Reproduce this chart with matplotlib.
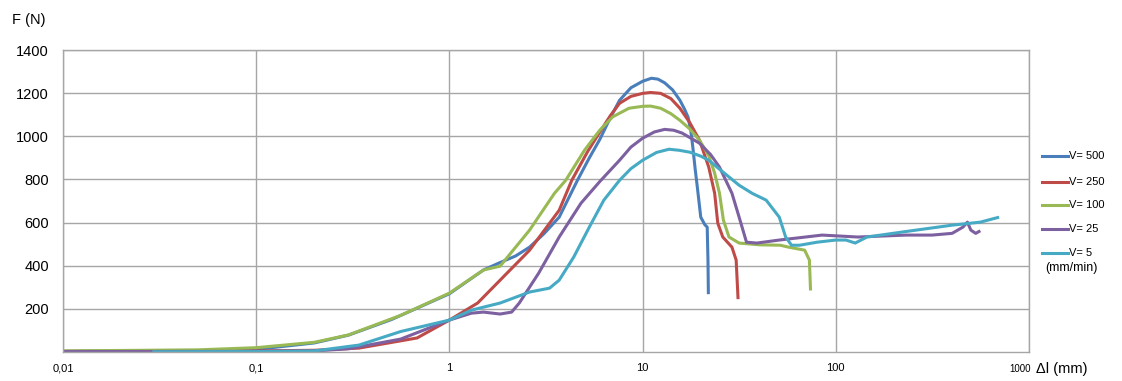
import matplotlib
matplotlib.use("Agg")
import matplotlib.pyplot as plt
from matplotlib.lines import Line2D

plt.rcParams['font.family'] = ['Liberation Sans', 'DejaVu Sans']

# elongation (mm) and force (N) for each crosshead speed
x_500 = [0.01, 0.05, 0.1, 0.2, 0.3, 0.5, 1.0, 1.5, 1.8, 2.2, 2.6, 3.1, 3.7, 4.6, 5.3, 6.0, 6.8, 7.6, 8.7, 10.0, 11.1, 12.0, 13.0, 14.3, 15.6, 16.5, 17.2, 17.8, 18.2, 18.7, 19.2, 20.0, 21.0, 21.6, 21.8, 21.9]
f_500 = [3, 6, 12, 42, 78, 150, 270, 380, 412, 445, 486, 550, 625, 796, 900, 985, 1085, 1167, 1225, 1255, 1269, 1265, 1248, 1215, 1167, 1125, 1088, 1020, 949, 850, 764, 625, 590, 579, 420, 268]

x_250 = [0.01, 0.1, 0.2, 0.34, 0.68, 1.0, 1.4, 1.83, 2.6, 3.7, 4.3, 5.2, 6.0, 6.8, 7.6, 8.7, 10.0, 11.0, 12.4, 14.0, 15.6, 17.5, 19.7, 22.0, 23.6, 24.5, 26.0, 29.0, 30.5, 31.2]
f_250 = [3, 5, 8, 18, 65, 148, 227, 333, 472, 657, 796, 930, 1019, 1095, 1153, 1185, 1199, 1203, 1199, 1175, 1130, 1065, 982, 857, 736, 597, 533, 486, 426, 245]

x_100 = [0.01, 0.05, 0.1, 0.2, 0.3, 0.56, 1.0, 1.5, 1.83, 2.6, 3.5, 4.0, 5.0, 6.0, 7.0, 8.5, 10.0, 11.0, 12.4, 14.0, 15.6, 17.5, 19.7, 22.0, 23.6, 25.0, 26.2, 28.0, 31.6, 40.0, 51.6, 57.0, 69.0, 73.0, 74.0]
f_100 = [5, 10, 20, 45, 79, 170, 273, 380, 398, 565, 736, 796, 935, 1028, 1090, 1130, 1139, 1140, 1130, 1105, 1074, 1035, 982, 910, 829, 736, 611, 533, 505, 497, 495, 486, 472, 426, 285]

x_25 = [0.01, 0.1, 0.2, 0.3, 0.56, 1.0, 1.3, 1.5, 1.83, 2.1, 2.3, 2.9, 3.7, 4.8, 6.0, 7.6, 8.7, 10.0, 11.5, 13.0, 14.5, 16.0, 19.7, 22.5, 25.0, 29.0, 31.6, 34.5, 39.0, 51.0, 85.0, 130.0, 232.0, 315.0, 400.0, 455.0, 480.0, 500.0, 530.0, 560.0]
f_25 = [2, 3, 5, 15, 60, 148, 180, 185, 176, 185, 227, 366, 533, 690, 790, 889, 950, 991, 1020, 1032, 1028, 1015, 968, 915, 857, 736, 625, 509, 505, 519, 542, 533, 542, 542, 550, 579, 602, 565, 550, 562]

x_5 = [0.029, 0.1, 0.2, 0.34, 0.56, 1.0, 1.3, 1.83, 2.6, 3.3, 3.7, 4.4, 5.3, 6.3, 7.6, 8.7, 10.0, 11.8, 13.7, 15.5, 17.6, 20.0, 22.0, 26.0, 31.6, 37.0, 43.6, 51.0, 55.0, 59.0, 65.0, 80.0, 100.0, 113.0, 126.0, 145.0, 220.0, 400.0, 560.0, 700.0]
f_5 = [1, 2, 5, 32, 95, 148, 194, 227, 278, 296, 333, 440, 579, 704, 796, 850, 889, 925, 940, 935, 926, 908, 889, 835, 773, 735, 704, 625, 533, 495, 495, 509, 519, 519, 505, 533, 556, 588, 602, 625]

speeds = ['V= 500', 'V= 250', 'V= 100', 'V= 25', 'V= 5']
colors = ['#4a7ebb', '#be4b48', '#98b954', '#7d60a0', '#46aac5']

fig = plt.figure(figsize=(11.22, 3.81), dpi=100)
ax = fig.add_axes([63 / 1122, 1 - 352 / 381, 966 / 1122, 302 / 381])

series = [(x_500, f_500), (x_250, f_250), (x_100, f_100), (x_25, f_25), (x_5, f_5)]
for (xs, fs), c in zip(series, colors):
    ax.plot(xs, fs, color=c, lw=2.2, solid_capstyle='butt', solid_joinstyle='round')

ax.set_xscale('log')
ax.set_xlim(0.01, 1000)
ax.set_ylim(0, 1400)
ax.set_yticks([200, 400, 600, 800, 1000, 1200, 1400])
ax.set_yticklabels(['200', '400', '600', '800', '1000', '1200', '1400'], fontsize=10.5)
ax.set_xticks([0.01, 0.1, 1, 10, 100, 1000])
ax.set_xticklabels(['0,01', '0,1', '1', '10', '100', ''], fontsize=8)
ax.minorticks_off()
ax.tick_params(length=0, pad=8)
ax.tick_params(axis='y', pad=10)
ax.grid(True, color='#a6a6a6', lw=1)
for s in ax.spines.values():
    s.set_color('#a6a6a6')
    s.set_linewidth(1)
ax.set_axisbelow(True)

fig.text(12 / 1122, 1 - 20 / 381, 'F (N)', fontsize=10.5, va='center', ha='left')
fig.text(1020 / 1122, 1 - 369 / 381, '1000', fontsize=7, va='center', ha='center')
fig.text(1036 / 1122, 1 - 369 / 381, 'Δl (mm)', fontsize=10.5, va='center', ha='left')

# legend drawn by hand on the right
ys = [156, 182, 205, 229, 253]
for lab, c, y in zip(speeds, colors, ys):
    fig.add_artist(Line2D([1042 / 1122, 1068 / 1122], [1 - y / 381, 1 - y / 381], color=c, lw=2.2))
    fig.text(1069 / 1122, 1 - y / 381, lab, fontsize=8, va='center', ha='left')
fig.text(1045 / 1122, 1 - 268 / 381, '(mm/min)', fontsize=9, va='center', ha='left')

fig.savefig('out.png', dpi=100)
